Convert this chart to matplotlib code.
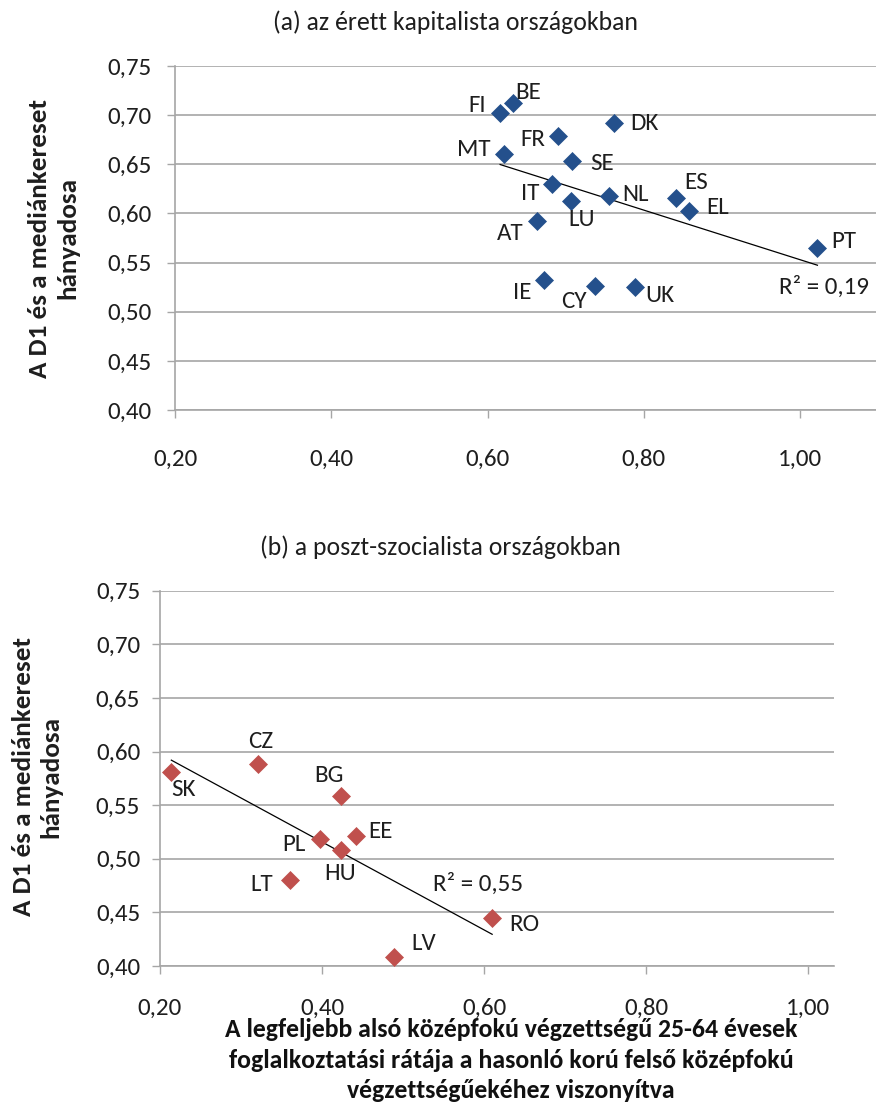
import matplotlib
matplotlib.use("Agg")
import matplotlib.pyplot as plt
from matplotlib.ticker import FuncFormatter, MultipleLocator
import numpy as np

plt.rcParams['font.family'] = ['Carlito', 'Lato', 'DejaVu Sans']

# (a) mature capitalist countries
cap_codes = ['FI', 'BE', 'DK', 'FR', 'MT', 'SE', 'IT', 'LU', 'NL', 'ES', 'EL', 'AT', 'PT', 'IE', 'CY', 'UK']
cap_x = [0.616, 0.632, 0.762, 0.690, 0.621, 0.708, 0.683, 0.707, 0.755, 0.841, 0.858, 0.663, 1.022, 0.672, 0.737, 0.788]
cap_y = [0.702, 0.712, 0.692, 0.679, 0.660, 0.653, 0.630, 0.613, 0.618, 0.616, 0.602, 0.592, 0.565, 0.532, 0.526, 0.525]
cap_r2 = '0,19'

# (b) post-socialist countries
pos_codes = ['SK', 'CZ', 'BG', 'PL', 'HU', 'EE', 'LT', 'LV', 'RO']
pos_x = [0.214, 0.321, 0.423, 0.398, 0.423, 0.442, 0.361, 0.489, 0.610]
pos_y = [0.581, 0.588, 0.559, 0.518, 0.508, 0.521, 0.480, 0.408, 0.445]
pos_r2 = '0,55'

titles = ['(a) az érett kapitalista országokban', '(b) a poszt-szocialista országokban']
ylabel = 'A D1 és a mediánkereset\nhányadosa'
xlabel = ('A legfeljebb alsó középfokú végzettségű 25-64 évesek\n'
          'foglalkoztatási rátája a hasonló korú felső középfokú\n'
          'végzettségűekéhez viszonyítva')

# label placement in pixels: (ha, dx, dy) with dy pointing down
cap_lbl = {'FI': ('right', -14, -8), 'BE': ('center', 16, -11), 'DK': ('left', 16, 0),
           'FR': ('right', -13, 4), 'MT': ('right', -14, -5), 'SE': ('left', 18, 2),
           'IT': ('right', -13, 10), 'LU': ('center', 10, 19), 'NL': ('left', 13, -1),
           'ES': ('left', 8, -15), 'EL': ('left', 17, -4), 'AT': ('right', -13, 12),
           'PT': ('left', 14, -6), 'IE': ('right', -12, 12), 'CY': ('right', -8, 15),
           'UK': ('left', 11, 8)}
pos_lbl = {'SK': ('left', 0, 18), 'CZ': ('center', 3, -23), 'BG': ('center', -12, -20),
           'PL': ('right', -15, 5), 'HU': ('center', -1, 23), 'EE': ('left', 12, -5),
           'LT': ('right', -17, 4), 'LV': ('left', 17, -14), 'RO': ('left', 17, 7)}

W, H = 876, 1106
PX = 0.72  # points per pixel at 100 dpi
grid_c = '#a6a6a6'
ink = '#1e1e1e'
FS = 18

fig = plt.figure(figsize=(W / 100, H / 100), dpi=100)


def px_axes(l, t, r, b):
    return fig.add_axes([l / W, 1 - b / H, (r - l) / W, (b - t) / H])


def comma(v, pos):
    return f'{v:.2f}'.replace('.', ',')


def draw_panel(ax, xs, ys, codes, lbl, color, r2, r2_pos, xmax, ypad, xpad):
    ax.set_xlim(0.2, xmax)
    ax.set_ylim(0.40, 0.75)
    ax.xaxis.set_major_locator(MultipleLocator(0.2))
    ax.yaxis.set_major_locator(MultipleLocator(0.05))
    ax.xaxis.set_major_formatter(FuncFormatter(comma))
    ax.yaxis.set_major_formatter(FuncFormatter(comma))
    ax.grid(axis='y', color=grid_c, lw=1.2)
    ax.set_axisbelow(True)
    for s in ['top', 'right']:
        ax.spines[s].set_visible(False)
    for s in ['left', 'bottom']:
        ax.spines[s].set_color(grid_c)
        ax.spines[s].set_linewidth(1.2)
    ax.tick_params(axis='both', direction='out', length=8 * PX, width=1.0, color=grid_c,
                   labelsize=FS, labelcolor=ink)
    ax.tick_params(axis='y', pad=ypad)
    ax.tick_params(axis='x', pad=xpad)

    # linear trend over the data range
    k, b = np.polyfit(xs, ys, 1)
    tx = np.array([min(xs), max(xs)])
    ax.plot(tx, k * tx + b, color='black', lw=0.9, zorder=2)

    ax.plot(xs, ys, linestyle='none', marker='D', markersize=9, color=color,
            markeredgewidth=0.5, zorder=3, clip_on=False)
    for c, x, y in zip(codes, xs, ys):
        ha, dx, dy = lbl[c]
        ax.annotate(c, (x, y), xytext=(dx * PX, -dy * PX), textcoords='offset points',
                    ha=ha, va='center', fontsize=FS, color=ink)
    ax.text(r2_pos[0], r2_pos[1], 'R² = ' + r2, ha='center', va='center',
            fontsize=FS, color=ink)


ax1 = px_axes(175, 66, 878.4, 410)
draw_panel(ax1, cap_x, cap_y, cap_codes, cap_lbl, '#24508c', cap_r2, (1.031, 0.525),
           1.1, 11, 22)

ax2 = px_axes(160, 590.7, 834, 966)
draw_panel(ax2, pos_x, pos_y, pos_codes, pos_lbl, '#c0504d', pos_r2, (0.593, 0.477),
           1.032, 8.5, 17.5)

fig.text(455 / W, 1 - 22 / H, titles[0], ha='center', va='center', fontsize=18.5, color=ink)
fig.text(440 / W, 1 - 547 / H, titles[1], ha='center', va='center', fontsize=18.5, color=ink)

fig.text(54 / W, 1 - 238 / H, ylabel, rotation=90, ha='center', va='center', fontsize=19.5,
         fontweight='bold', color=ink, linespacing=1.3)
fig.text(37 / W, 1 - 777 / H, ylabel, rotation=90, ha='center', va='center', fontsize=19.5,
         fontweight='bold', color=ink, linespacing=1.22)

fig.text(511 / W, 1 - 1060 / H, xlabel, ha='center', va='center', fontsize=18.5,
         fontweight='bold', color='#111111', linespacing=1.4)

fig.savefig('out.png', dpi=100)
